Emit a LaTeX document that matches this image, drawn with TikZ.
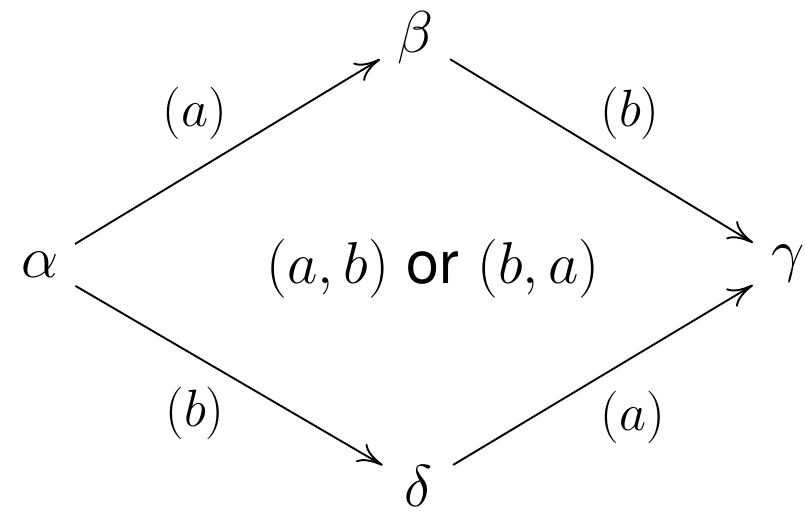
\RequirePackage{fix-cm}
\documentclass[tikz,border=0pt]{standalone}
\usepackage{amsmath, amssymb}
\usepackage{fontspec}
\newfontfamily\orfont{TeX Gyre Heros}
\usepackage{tikz}
\usetikzlibrary{arrows.meta}

\begin{document}
\begin{tikzpicture}[scale=1.0,>={Computer Modern Rightarrow[length=12pt,width=10pt]},
    state/.style={circle,inner sep=0pt,minimum size=1.35cm,font=\fontsize{28}{32}\selectfont},
    lbl/.style={font=\fontsize{24.88}{30}\selectfont}]
      \useasboundingbox (0,0) rectangle (13.417,8.55);
      \node[state] (al) at (0.667,4.13) {$\alpha$};
      \node[state] (be) at (6.917,7.917) {$\beta$};
      \node[state] (ga) at (13.133,4.15) {$\gamma$};
      \node[state] (de) at (6.967,0.45) {$\delta$};
      \draw[->,line width=0.9pt] (al) -- (be);
      \draw[->,line width=0.9pt] (be) -- (ga);
      \draw[->,line width=0.9pt] (al) -- (de);
      \draw[->,line width=0.9pt] (de) -- (ga);
      \node[lbl] (lab) at (3.25,6.667) {$(a)$};
      \node[lbl] (lbg) at (10.5,6.667) {$(b)$};
      \node[lbl] (lad) at (3.25,1.667) {$(b)$};
      \node[lbl] (ldg) at (10.55,1.6) {$(a)$};
      \node[font=\fontsize{28}{32}\selectfont] (mid) at (7.217,4.067) {$(a,b)$ {\orfont or} $(b,a)$};
    \end{tikzpicture}
\end{document}
